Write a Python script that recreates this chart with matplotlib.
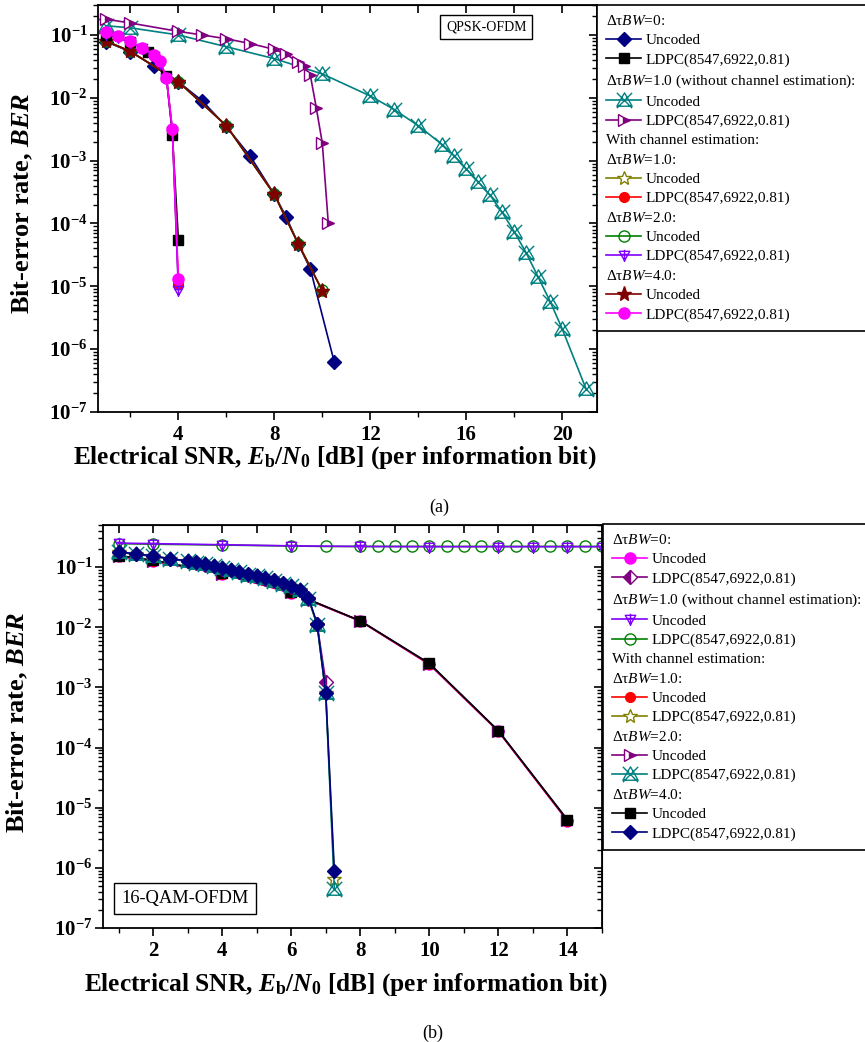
import matplotlib
matplotlib.use('Agg')
import matplotlib.pyplot as plt
from matplotlib.path import Path
from matplotlib.lines import Line2D
from matplotlib.ticker import FixedLocator, LogLocator, NullFormatter

plt.rcParams['font.family'] = ['Liberation Serif', 'DejaVu Serif']
plt.rcParams['mathtext.fontset'] = 'custom'
plt.rcParams['mathtext.rm'] = 'Liberation Serif'
plt.rcParams['mathtext.it'] = 'Liberation Serif:italic'
plt.rcParams['mathtext.bf'] = 'Liberation Serif:bold'
plt.rcParams['mathtext.bfit'] = 'Liberation Serif:italic:bold'

# ---------------- data: (a) QPSK-OFDM ----------------
qpsk_unc0_x = [1, 2, 3, 4, 5, 6, 7, 8, 8.5, 9, 9.5, 10.5]
qpsk_unc0_y = [0.078, 0.054, 0.032, 0.018, 0.0089, 0.0035, 0.00117, 2.9e-4, 1.26e-4, 4.7e-5, 1.9e-5, 6.2e-7]
qpsk_ldpc0_x = [1, 2, 2.75, 3.5, 3.75, 4]
qpsk_ldpc0_y = [0.1, 0.078, 0.054, 0.022, 0.0026, 5.5e-5]
qpsk_nce_unc_x = [1, 2, 4, 6, 8, 10, 12, 13, 14, 15, 15.5, 16, 16.5, 17, 17.5, 18, 18.5, 19, 19.5, 20, 21]
qpsk_nce_unc_y = [0.14, 0.13, 0.1, 0.065, 0.042, 0.024, 0.0107, 0.0065, 0.0036, 0.0018, 0.0012, 7.4e-4,
                  4.6e-4, 2.8e-4, 1.5e-4, 7.4e-5, 3.4e-5, 1.4e-5, 5.7e-6, 2.1e-6, 2.3e-7]
qpsk_nce_ldpc_x = [1, 2, 4, 5, 6, 7, 8, 8.5, 9, 9.25, 9.5, 9.75, 10, 10.25]
qpsk_nce_ldpc_y = [0.178, 0.155, 0.114, 0.1, 0.087, 0.073, 0.059, 0.049, 0.037, 0.032, 0.023, 6.9e-3, 1.9e-3, 1.0e-4]
qpsk_ce_unc_x = [1, 2, 4, 6, 8, 9, 10]
qpsk_unc1_y = [0.08, 0.055, 0.018, 0.0036, 2.9e-4, 4.7e-5, 8.5e-6]
qpsk_unc2_y = [0.08, 0.055, 0.018, 0.0036, 2.9e-4, 4.8e-5, 8.6e-6]
qpsk_unc4_y = [0.079, 0.055, 0.018, 0.0036, 2.9e-4, 4.7e-5, 8.5e-6]
qpsk_ce_ldpc_x = [1, 1.5, 2, 2.5, 3, 3.25, 3.5, 3.75, 4]
qpsk_ldpc1_y = [0.11, 0.095, 0.078, 0.062, 0.047, 0.037, 0.021, 0.0031, 1.1e-5]
qpsk_ldpc2_y = [0.105, 0.094, 0.077, 0.061, 0.046, 0.036, 0.021, 0.003, 8.7e-6]
qpsk_ldpc4_y = [0.11, 0.096, 0.079, 0.063, 0.048, 0.038, 0.021, 0.0032, 1.3e-5]

# ---------------- data: (b) 16-QAM-OFDM ----------------
qam_unc_x = [1, 2, 4, 6, 8, 10, 12, 14]
qam_unc0_y = [0.15, 0.125, 0.077, 0.037, 0.0126, 0.0024, 1.85e-4, 6.0e-6]
qam_unc1_y = [0.152, 0.127, 0.078, 0.0375, 0.0127, 0.00245, 1.87e-4, 6.1e-6]
qam_unc2_y = [0.153, 0.128, 0.078, 0.0378, 0.0127, 0.00248, 1.88e-4, 6.2e-6]
qam_unc4_y = [0.155, 0.13, 0.079, 0.038, 0.0128, 0.0025, 1.9e-4, 6.3e-6]
qam_nce_unc_x = [1, 2, 4, 6, 8, 10, 12, 13, 14, 15]
qam_nce_unc_y = [0.25, 0.245, 0.235, 0.225, 0.22, 0.218, 0.218, 0.218, 0.218, 0.218]
qam_nce_ldpc_x = [1, 2, 4, 6, 7, 8, 8.5, 9, 9.5, 10, 10.5, 11, 11.5, 12, 12.5, 13, 13.5, 14, 14.5, 15]
qam_nce_ldpc_y = [0.245, 0.24, 0.232, 0.224, 0.22, 0.22, 0.22, 0.22, 0.22, 0.22, 0.22, 0.22,
                  0.22, 0.22, 0.22, 0.22, 0.22, 0.22, 0.22, 0.22]
qam_ldpc_x = [1, 1.5, 2, 2.5, 3, 3.25, 3.5, 3.75, 4, 4.25, 4.5, 4.75, 5, 5.25, 5.5, 5.75,
              6, 6.25, 6.5, 6.75, 7, 7.25]
qam_ldpc4_y = [0.18, 0.165, 0.154, 0.137, 0.127, 0.12, 0.112, 0.105, 0.096, 0.09, 0.084, 0.076,
               0.072, 0.066, 0.06, 0.054, 0.049, 0.042, 0.031, 0.0115, 8.1e-4, 8.7e-7]
qam_ldpc2_y = [0.178, 0.163, 0.152, 0.136, 0.126, 0.119, 0.111, 0.104, 0.095, 0.089, 0.083, 0.075,
               0.071, 0.065, 0.059, 0.053, 0.048, 0.041, 0.030, 0.011, 8.0e-4, 4.4e-7]
qam_ldpc1_y = [0.179, 0.164, 0.153, 0.136, 0.126, 0.119, 0.111, 0.104, 0.095, 0.089, 0.083, 0.075,
               0.071, 0.065, 0.059, 0.053, 0.048, 0.041, 0.030, 0.011, 8.0e-4, 6.6e-7]
qam_ldpc0_x = qam_ldpc_x[:-1]
qam_ldpc0_y = [0.177, 0.162, 0.151, 0.135, 0.125, 0.118, 0.11, 0.103, 0.094, 0.088, 0.082, 0.074,
               0.07, 0.064, 0.058, 0.052, 0.047, 0.041, 0.030, 0.0112, 1.25e-3]

ytick_vals = [1e-7, 1e-6, 1e-5, 1e-4, 1e-3, 1e-2, 1e-1]
ytick_labels = [r'$\mathbf{10^{-%d}}$' % k for k in range(7, 0, -1)]

# custom markers
tri_x = Path([(-1, -0.75), (1, -0.75), (0, 1), (-1, -0.75), (-1, -1), (1, 1), (-1, 1), (1, -1)],
             [Path.MOVETO, Path.LINETO, Path.LINETO, Path.CLOSEPOLY,
              Path.MOVETO, Path.LINETO, Path.MOVETO, Path.LINETO])
tri_plus = Path([(-1, 0.8), (1, 0.8), (0, -1), (-1, 0.8), (0, 1.1), (0, -1.2), (-0.7, 0.2), (0.7, 0.2)],
                [Path.MOVETO, Path.LINETO, Path.LINETO, Path.CLOSEPOLY,
                 Path.MOVETO, Path.LINETO, Path.MOVETO, Path.LINETO])

NAVY, TEAL, PURPLE, OLIVE, GREEN, VIOLET, BROWN, MAG = '#000080', '#008080', '#800080', '#808000', '#008000', '#8000FF', '#800000', '#FF00FF'

STY = {
    'diamond': dict(color=NAVY, marker='D', ms=7.5),
    'square': dict(color='black', marker='s', ms=7),
    'trix': dict(color=TEAL, marker=tri_x, ms=11, mfc='none', mew=1),
    'halftri': dict(color=PURPLE, marker='>', ms=8, fillstyle='right', markerfacecoloralt='white'),
    'star_open': dict(color=OLIVE, marker='*', ms=10, mfc='white', mew=1),
    'red': dict(color='red', marker='o', ms=7),
    'circ_open': dict(color=GREEN, marker='o', ms=8, mfc='none', mew=1),
    'triplus': dict(color=VIOLET, marker=tri_plus, ms=9, mfc='none', mew=1),
    'star': dict(color=BROWN, marker='*', ms=11),
    'ball': dict(color=MAG, marker='o', ms=8),
    'halfdiam': dict(color=PURPLE, marker='D', ms=7.5, fillstyle='left', markerfacecoloralt='white'),
}

LEG_FS = 11
fig = plt.figure(figsize=(8.65, 10.42), dpi=100)
ax1 = fig.add_axes([98 / 865, 1 - 412 / 1042, 499 / 865, 407 / 1042])
ax2 = fig.add_axes([103 / 865, 1 - 928 / 1042, 499 / 865, 403 / 1042])


def hdr(text):
    return (Line2D([], [], linestyle='none'), text)


def ent(style, text):
    return (Line2D([], [], lw=1.2, **STY[style]), text)


# (a)
ax1.plot(qpsk_nce_unc_x, qpsk_nce_unc_y, lw=1.2, **STY['trix'])
ax1.plot(qpsk_nce_ldpc_x, qpsk_nce_ldpc_y, lw=1.2, **STY['halftri'])
ax1.plot(qpsk_unc0_x, qpsk_unc0_y, lw=1.2, **STY['diamond'])
ax1.plot(qpsk_ce_unc_x, qpsk_unc1_y, lw=1.2, **STY['star_open'])
ax1.plot(qpsk_ce_unc_x, qpsk_unc2_y, lw=1.2, **STY['circ_open'])
ax1.plot(qpsk_ce_unc_x, qpsk_unc4_y, lw=1.2, **STY['star'])
ax1.plot(qpsk_ldpc0_x, qpsk_ldpc0_y, lw=1.2, **STY['square'])
ax1.plot(qpsk_ce_ldpc_x, qpsk_ldpc1_y, lw=1.2, **STY['red'])
ax1.plot(qpsk_ce_ldpc_x, qpsk_ldpc2_y, lw=1.2, **STY['triplus'])
ax1.plot(qpsk_ce_ldpc_x, qpsk_ldpc4_y, lw=1.2, **STY['ball'])

leg1 = [hdr(r'Δτ$BW$=0:'), ent('diamond', 'Uncoded'), ent('square', 'LDPC(8547,6922,0.81)'),
        hdr(r'Δτ$BW$=1.0 (without channel estimation):'), ent('trix', 'Uncoded'), ent('halftri', 'LDPC(8547,6922,0.81)'),
        hdr('With channel estimation:'),
        hdr(r'Δτ$BW$=1.0:'), ent('star_open', 'Uncoded'), ent('red', 'LDPC(8547,6922,0.81)'),
        hdr(r'Δτ$BW$=2.0:'), ent('circ_open', 'Uncoded'), ent('triplus', 'LDPC(8547,6922,0.81)'),
        hdr(r'Δτ$BW$=4.0:'), ent('star', 'Uncoded'), ent('ball', 'LDPC(8547,6922,0.81)')]

# (b)
ax2.plot(qam_nce_ldpc_x, qam_nce_ldpc_y, lw=1.2, **STY['circ_open'])
ax2.plot(qam_nce_unc_x, qam_nce_unc_y, lw=1.2, **STY['triplus'])
ax2.plot(qam_unc_x, qam_unc0_y, lw=1.2, **STY['ball'])
ax2.plot(qam_unc_x, qam_unc1_y, lw=1.2, **STY['red'])
ax2.plot(qam_unc_x, qam_unc2_y, lw=1.2, **STY['halftri'])
ax2.plot(qam_unc_x, qam_unc4_y, lw=1.2, **STY['square'])
ax2.plot(qam_ldpc0_x, qam_ldpc0_y, lw=1.2, **STY['halfdiam'])
ax2.plot(qam_ldpc_x, qam_ldpc1_y, lw=1.2, **STY['star_open'])
ax2.plot(qam_ldpc_x, qam_ldpc2_y, lw=1.2, **STY['trix'])
ax2.plot(qam_ldpc_x, qam_ldpc4_y, lw=1.2, **STY['diamond'])

leg2 = [hdr(r'Δτ$BW$=0:'), ent('ball', 'Uncoded'), ent('halfdiam', 'LDPC(8547,6922,0.81)'),
        hdr(r'Δτ$BW$=1.0 (without channel estimation):'), ent('triplus', 'Uncoded'), ent('circ_open', 'LDPC(8547,6922,0.81)'),
        hdr('With channel estimation:'),
        hdr(r'Δτ$BW$=1.0:'), ent('red', 'Uncoded'), ent('star_open', 'LDPC(8547,6922,0.81)'),
        hdr(r'Δτ$BW$=2.0:'), ent('halftri', 'Uncoded'), ent('trix', 'LDPC(8547,6922,0.81)'),
        hdr(r'Δτ$BW$=4.0:'), ent('square', 'Uncoded'), ent('diamond', 'LDPC(8547,6922,0.81)')]

xlabel = r'Electrical SNR, $\mathbfit{E}_\mathbf{b}$/$\mathbfit{N}_\mathbf{0}$ [dB] (per information bit)'
ylabel = r'Bit-error rate, $\mathbfit{BER}$'

panels = [
    (ax1, (0.65, 21.45), (1e-7, 0.3), [4, 8, 12, 16, 20], [2, 6, 10, 14, 18],
     list(range(2, 22, 2)), leg1, (597 / 865, 1 - 5 / 1042), (0.475, -0.078), (-0.126, 0.513)),
    (ax2, (0.55, 15.0), (1e-7, 0.5), list(range(2, 15, 2)), list(range(1, 16, 2)),
     list(range(1, 16)), leg2, (603 / 865, 1 - 524 / 1042), (0.487, -0.108), (-0.146, 0.511)),
]

for ax, xlim, ylim, xmaj, xmin, xtop, entries, anchor, xlc, ylc in panels:
    ax.set_yscale('log')
    ax.set_xlim(*xlim)
    ax.set_ylim(*ylim)
    ax.set_yticks(ytick_vals)
    ax.set_yticklabels(ytick_labels)
    ax.yaxis.set_minor_locator(LogLocator(base=10, subs=range(2, 10), numticks=20))
    ax.yaxis.set_minor_formatter(NullFormatter())
    ax.set_xticks(xmaj)
    ax.set_xticklabels([str(v) for v in xmaj], fontweight='bold')
    ax.xaxis.set_minor_locator(FixedLocator(xmin))
    ax.tick_params(which='major', direction='out', length=6, width=1.2, labelsize=15)
    ax.tick_params(axis='y', which='major', pad=1.5)
    ax.tick_params(which='minor', direction='out', length=3.5, width=1)
    for sp in ax.spines.values():
        sp.set_linewidth(1.3)
    ax.set_xlabel(xlabel, fontsize=18.3, fontweight='bold')
    ax.set_ylabel(ylabel, fontsize=19, fontweight='bold')
    ax.xaxis.set_label_coords(*xlc)
    ax.yaxis.set_label_coords(*ylc)

    top = ax.secondary_xaxis('top')
    top.set_xticks(xtop)
    top.tick_params(direction='in', length=5.5, width=1.2, labeltop=False)
    right = ax.secondary_yaxis('right')
    right.set_yticks(ytick_vals)
    right.yaxis.set_minor_locator(LogLocator(base=10, subs=range(2, 10), numticks=20))
    right.yaxis.set_minor_formatter(NullFormatter())
    right.tick_params(which='major', direction='in', length=6, width=1.2, labelright=False)
    right.tick_params(which='minor', direction='in', length=3.5, width=1, labelright=False)

    hs = [e[0] for e in entries]
    ls = [e[1] for e in entries]
    lg = fig.legend(hs, ls, loc='upper left', bbox_to_anchor=anchor, fontsize=LEG_FS,
                    frameon=True, fancybox=False, edgecolor='black', framealpha=1,
                    borderaxespad=0, borderpad=0.6, labelspacing=0.36, handlelength=2.3,
                    handletextpad=0.3)
    lg.get_frame().set_linewidth(1.2)
    shift = (2.3 + 0.3) * LEG_FS * 100 / 72
    for txt, h in zip(lg.get_texts(), hs):
        if h.get_linestyle() in ('None', 'none', ''):
            txt.set_x(-shift)

ax1.text(0.778, 0.946, 'QPSK-OFDM', transform=ax1.transAxes, ha='center', va='center', fontsize=10,
         bbox=dict(boxstyle='square,pad=0.4', facecolor='white', edgecolor='black', lw=1))
ax2.text(0.165, 0.073, '16-QAM-OFDM', transform=ax2.transAxes, ha='center', va='center', fontsize=13.3,
         bbox=dict(boxstyle='square,pad=0.4', facecolor='white', edgecolor='black', lw=1))

fig.text(439 / 865, 1 - 507 / 1042, '(a)', ha='center', va='center', fontsize=13)
fig.text(433 / 865, 1 - 1033 / 1042, '(b)', ha='center', va='center', fontsize=13)

fig.savefig('out.png', dpi=100)
